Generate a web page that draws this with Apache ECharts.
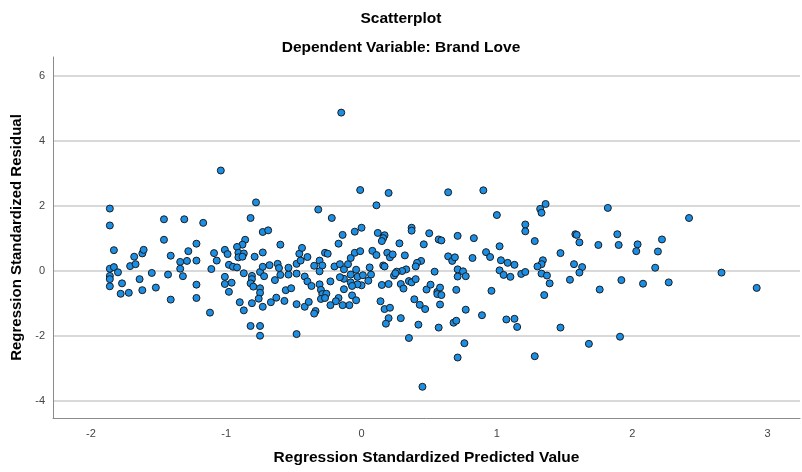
<!DOCTYPE html>
<html>
<head>
<meta charset="utf-8">
<script src="https://cdn.jsdelivr.net/npm/echarts@6/dist/echarts.min.js"></script>
<style>
html,body{margin:0;padding:0;background:#fff;}
#chart{width:802px;height:472px;}
</style>
</head>
<body>
<div id="chart"></div>
<script>
// Axis ticks
const xTicks = [-2, -1, 0, 1, 2, 3];
const yTicks = [-4, -2, 0, 2, 4, 6];

// Points: [Regression Standardized Predicted Value, Regression Standardized Residual]
const pointsA = [
[-1.86,1.92],[-1.86,1.40],[-1.83,0.64],[-1.86,0.07],[-1.83,0.12],[-1.86,-0.15],[-1.86,-0.25],[-1.86,-0.47],[-1.80,-0.04],[-1.77,-0.38],[-1.78,-0.70],[-1.72,-0.67],[-1.71,0.15],[-1.68,0.44],[-1.67,0.21],[-1.62,0.54],[-1.61,0.65],[-1.64,-0.25],[-1.62,-0.59],[-1.55,-0.06],[-1.52,-0.51],[-1.46,1.59],[-1.31,1.59],[-1.46,0.96],[-1.41,0.47],[-1.43,-0.11],[-1.41,-0.88],[-1.34,0.28],[-1.34,0.07],[-1.32,-0.16],[-1.29,0.31],[-1.28,0.61],[-1.22,0.84],[-1.22,0.32],[-1.22,-0.42],[-1.22,-0.83]
];
const pointsB = [
[-1.17,1.48],[-0.78,2.11],[-0.82,1.63],[-0.73,1.20],[-0.69,1.25],[-0.86,0.96],[-0.88,0.81],[-0.60,0.81],[-0.92,0.74],[-1.01,0.65],[-0.99,0.52],[-1.09,0.55],[-1.07,0.32],[-0.91,0.56],[-0.87,0.54],[-0.91,0.42],[-0.88,0.44],[-0.79,0.44],[-0.73,0.57],[-0.98,0.19],[-0.95,0.13],[-0.92,0.11],[-1.11,0.06],[-0.87,-0.07],[-1.01,-0.18],[-1.01,-0.40],[-0.96,-0.36],[-0.98,-0.64],[-0.81,-0.15],[-0.81,-0.25],[-0.82,-0.38],[-0.80,-0.48],[-0.75,-0.03],[-0.73,0.13],[-0.68,0.18],[-0.72,-0.16],[-0.75,-0.53],[-0.75,-0.67],[-0.76,-0.85],[-0.81,-0.99],[-0.73,-1.10],[-0.90,-0.96],[-0.87,-1.21],[-1.12,-1.28],[-0.82,-1.69],[-0.75,-1.69],[-0.75,-1.99],[-0.67,-0.96],[-0.63,-0.82],[-0.57,-0.92],[-0.56,-0.59],[-0.52,-0.53],[-0.48,-1.02],[-0.48,-1.94],[-0.64,-0.28],[-0.62,0.22],[-0.61,0.09],[-0.60,-0.12],[-0.54,-0.11],[-0.54,0.10],[-0.48,0.22],[-0.48,-0.08],[-0.46,0.53],[-1.04,3.09]
];
const pointsC = [
[-0.32,1.89],[-0.22,1.63],[-0.14,1.11],[-0.05,1.21],[0.00,1.33],[-0.17,0.84],[-0.44,0.71],[-0.40,0.43],[-0.45,0.32],[-0.27,0.56],[-0.25,0.53],[-0.31,0.32],[-0.35,0.16],[-0.29,0.17],[-0.31,-0.01],[-0.42,-0.17],[-0.40,-0.32],[-0.37,-0.46],[-0.31,-0.41],[-0.30,-0.58],[-0.29,-0.71],[-0.26,-0.70],[-0.30,-0.86],[-0.27,-0.83],[-0.23,-0.32],[-0.20,0.14],[-0.16,0.21],[-0.13,0.05],[-0.10,0.21],[-0.08,0.40],[-0.05,0.56],[-0.01,0.61],[0.08,0.62],[-0.04,0.04],[-0.08,-0.11],[-0.03,-0.18],[0.01,-0.13],[0.06,0.11],[0.07,-0.11],[0.05,-0.30],[0.00,-0.44],[-0.03,-0.41],[-0.08,-0.35],[-0.07,-0.46],[-0.13,-0.24],[-0.16,-0.19],[-0.13,-0.56],[-0.07,-0.75],[-0.04,-0.90],[-0.09,-1.05],[-0.14,-1.05],[-0.17,-0.83],[-0.19,-0.93],[-0.23,-1.05],[-0.42,-1.10],[-0.39,-0.95],[-0.34,-1.23],[-0.35,-1.31],[-0.15,4.87],[-0.01,2.49]
];
const pointsD = [
[0.20,2.40],[0.64,2.42],[0.11,2.02],[0.12,1.17],[0.17,1.10],[0.16,1.01],[0.15,0.92],[0.37,1.33],[0.37,1.24],[0.50,1.16],[0.57,0.97],[0.59,0.94],[0.71,1.08],[0.28,0.85],[0.46,0.82],[0.11,0.49],[0.19,0.56],[0.21,0.42],[0.23,0.51],[0.32,0.48],[0.16,0.17],[0.17,0.14],[0.44,0.31],[0.41,0.25],[0.40,0.14],[0.64,0.45],[0.67,0.31],[0.69,0.42],[0.71,0.05],[0.71,-0.17],[0.33,0.05],[0.30,0.00],[0.26,-0.02],[0.24,-0.14],[0.25,-0.07],[0.54,-0.02],[0.15,-0.43],[0.20,-0.40],[0.29,-0.40],[0.31,-0.54],[0.35,-0.31],[0.37,-0.35],[0.40,-0.25],[0.48,-0.57],[0.51,-0.42],[0.56,-0.64],[0.58,-0.51],[0.56,-0.71],[0.59,-0.74],[0.70,-0.58],[0.14,-0.93],[0.17,-1.17],[0.21,-1.13],[0.39,-0.87],[0.43,-1.04],[0.47,-1.17],[0.58,-1.03],[0.20,-1.45],[0.18,-1.62],[0.29,-1.45],[0.42,-1.65],[0.57,-1.74],[0.68,-1.59],[0.70,-1.53],[0.35,-2.06],[0.71,-2.66],[0.45,-3.56]
];
const pointsE = [
[0.90,2.48],[1.00,1.72],[1.32,1.91],[1.33,1.79],[1.36,2.06],[1.21,1.43],[1.21,1.22],[1.28,0.92],[0.83,1.01],[1.02,0.76],[0.92,0.58],[0.95,0.43],[0.82,0.40],[1.03,0.33],[1.08,0.25],[1.13,0.19],[1.34,0.33],[1.33,0.21],[1.30,0.14],[0.75,-0.01],[0.77,-0.16],[1.02,0.02],[1.05,-0.12],[1.10,-0.18],[1.18,-0.09],[1.21,-0.03],[1.33,-0.08],[1.37,-0.14],[0.96,-0.61],[1.35,-0.74],[0.77,-1.19],[0.89,-1.36],[1.07,-1.49],[1.13,-1.47],[1.15,-1.72],[0.76,-2.22],[1.28,-2.62]
];
const pointsF = [
[1.82,1.94],[2.42,1.63],[1.58,1.13],[1.59,1.11],[1.89,1.13],[1.61,0.88],[1.75,0.80],[1.90,0.80],[2.04,0.82],[2.03,0.61],[2.22,0.97],[2.19,0.60],[1.47,0.55],[1.57,0.21],[1.63,0.12],[1.61,-0.05],[1.39,-0.38],[1.54,-0.27],[1.76,-0.57],[1.92,-0.28],[2.08,-0.39],[2.27,-0.35],[2.17,0.10],[1.47,-1.74],[1.68,-2.24],[1.91,-2.02],[2.66,-0.05],[2.92,-0.52]
];

const allPoints = [].concat(pointsA, pointsB, pointsC, pointsD, pointsE, pointsF);
const FONT = '"Liberation Sans", Arial, sans-serif';

const chart = echarts.init(document.getElementById('chart'), null, {renderer: 'canvas'});
chart.setOption({
  animation: false,
  backgroundColor: '#ffffff',
  title: [
    {text: 'Scatterplot', left: 'center', top: 6,
     textStyle: {fontFamily: FONT, fontSize: 15.5, fontWeight: 'bold', color: '#000'}},
    {text: 'Dependent Variable: Brand Love', left: 'center', top: 35,
     textStyle: {fontFamily: FONT, fontSize: 15.5, fontWeight: 'bold', color: '#000'}}
  ],
  grid: {left: 53, right: 2, top: 57, bottom: 54, containLabel: false},
  xAxis: {
    type: 'value', min: -2.28, max: 3.24,
    name: 'Regression Standardized Predicted Value',
    nameLocation: 'middle', nameGap: 32,
    nameTextStyle: {fontFamily: FONT, fontSize: 15.5, fontWeight: 'bold', color: '#000'},
    axisLine: {show: true, onZero: false, lineStyle: {color: '#8a8a8a', width: 1}},
    axisTick: {show: false, customValues: xTicks},
    axisLabel: {customValues: xTicks, fontFamily: FONT, fontSize: 11, color: '#444', margin: 10},
    splitLine: {show: false}
  },
  yAxis: {
    type: 'value', min: -4.52, max: 6.58,
    name: 'Regression Standardized Residual',
    nameLocation: 'middle', nameGap: 29,
    nameTextStyle: {fontFamily: FONT, fontSize: 15, fontWeight: 'bold', color: '#000'},
    axisLine: {show: true, onZero: false, lineStyle: {color: '#8a8a8a', width: 1}},
    axisTick: {show: false, customValues: yTicks},
    axisLabel: {customValues: yTicks, fontFamily: FONT, fontSize: 11, color: '#444', margin: 8},
    splitLine: {show: true, lineStyle: {color: '#d9d9d9', width: 2}}
  },
  series: [{
    type: 'scatter',
    data: allPoints,
    symbol: 'circle',
    symbolSize: 7,
    itemStyle: {color: '#1b8fe6', borderColor: '#1c1c1c', borderWidth: 1, opacity: 1}
  }]
});
</script>
</body>
</html>
